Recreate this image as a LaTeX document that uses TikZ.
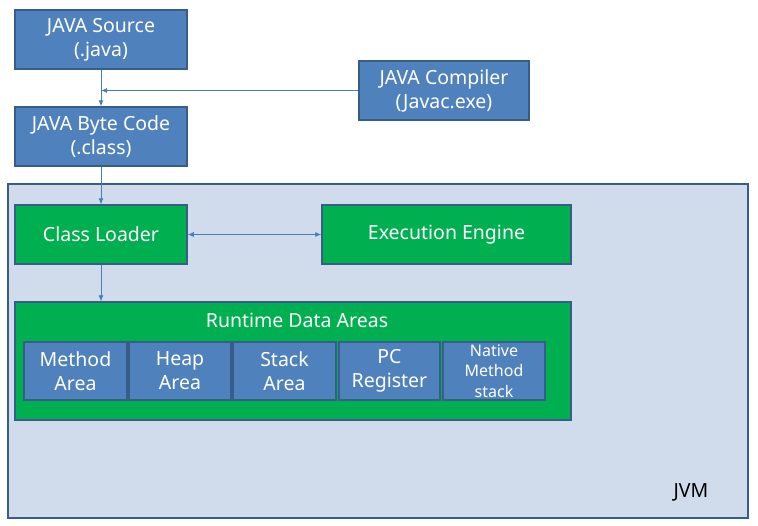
\documentclass[tikz,border=0pt]{standalone}
\usepackage{fontspec}
\setmainfont{Noto Sans}
\usetikzlibrary{arrows.meta}
\definecolor{bfill}{HTML}{4F81BD}
\definecolor{bline}{HTML}{385D8A}
\definecolor{gfill}{HTML}{00B050}
\definecolor{jfill}{HTML}{D0DCEB}
\definecolor{aline}{HTML}{4A7EBB}
\tikzset{
  mainfont/.style={font=\fontsize{19.5}{24}\selectfont},
  bbox/.style={draw=bline, line width=1.5pt, fill=bfill, text=white, align=center, inner sep=0pt, mainfont},
  gbox/.style={draw=bline, line width=1.5pt, fill=gfill, text=white, align=center, inner sep=0pt, mainfont},
  conn/.style={draw=aline, line width=0.8pt, -{Latex[length=6pt,width=5pt]}},
}
\begin{document}
\begin{tikzpicture}[x=1pt,y=-1pt]
\useasboundingbox (0,0) rectangle (758,525);
% JVM
\draw[draw=bline, line width=1.5pt, fill=jfill] (8,184) rectangle (748,518);
\node[mainfont] (jvm) at (691,492) {JVM};
% top boxes
\node[bbox, minimum width=172pt, minimum height=59pt] (src) at (101,39.5) {JAVA Source\\(.java)};
\node[bbox, minimum width=170pt, minimum height=59pt] (comp) at (444,90.5) {JAVA Compiler\\(Javac.exe)};
\node[bbox, minimum width=172pt, minimum height=59pt] (byte) at (101,136.5) {JAVA Byte Code\\(.class)};
\node[gbox, minimum width=172pt, minimum height=59pt] (cl) at (101,234.5) {Class Loader};
\node[gbox, minimum width=249pt, minimum height=59pt] (ee) at (446.5,234.5) {Execution Engine};
\node[gbox, minimum width=556pt, minimum height=118pt] (rda) at (293,361) {};
\node[text=white, mainfont] (rdal) at (297,320) {Runtime Data Areas};
\node[bbox, minimum width=103pt, minimum height=58pt] (ma) at (75.5,371) {Method\\Area};
\node[bbox, minimum width=102pt, minimum height=58pt] (ha) at (180,371) {Heap\\Area};
\node[bbox, minimum width=103pt, minimum height=58pt] (sa) at (284.5,371) {Stack\\Area};
\node[bbox, minimum width=101pt, minimum height=58pt] (pc) at (389.5,371) {PC\\Register};
\node[bbox, minimum width=102pt, minimum height=58pt, font=\fontsize{16}{20.5}\selectfont] (nm) at (494,371) {Native\\Method\\stack};
% connectors
\coordinate (j) at (src.south |- comp.west);
\draw[conn] (src.south) -- (byte.north);
\draw[conn] (comp.west) -- (j);
\draw[conn] (byte.south) -- (cl.north);
\draw[conn, {Latex[length=6pt,width=5pt]}-{Latex[length=6pt,width=5pt]}] (cl.east) -- (ee.west);
\draw[conn] (cl.south) -- (cl.south |- rda.north);
\end{tikzpicture}
\end{document}
